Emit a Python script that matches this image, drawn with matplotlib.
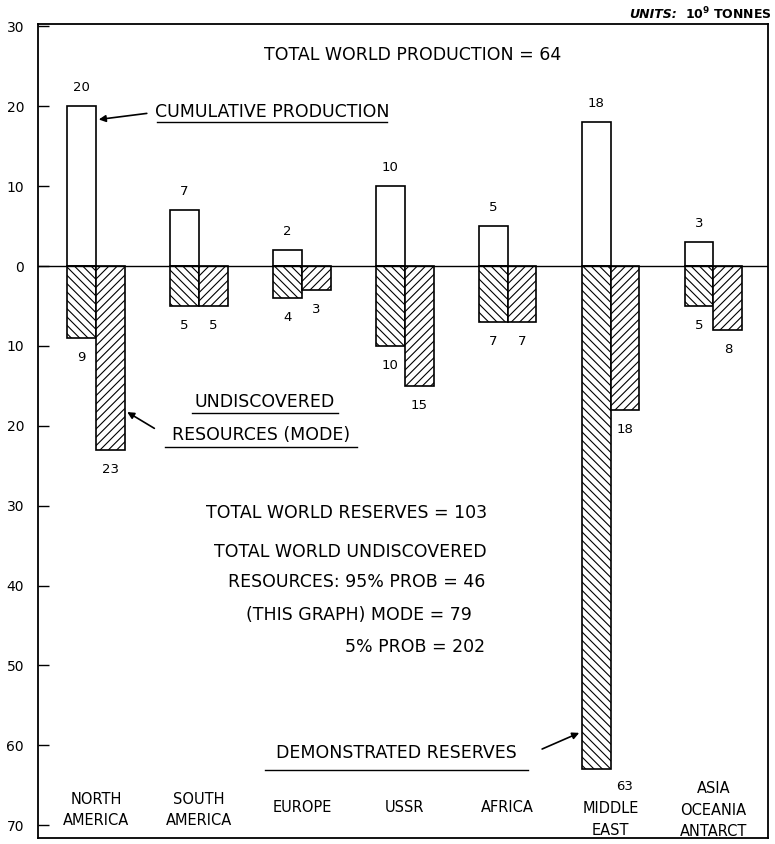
import numpy as np
import matplotlib.pyplot as plt

# oil figures by region, 10^9 tonnes
regions = ['NORTH\nAMERICA', 'SOUTH\nAMERICA', 'EUROPE', 'USSR', 'AFRICA',
           'MIDDLE\nEAST', 'ASIA\nOCEANIA\nANTARCT']
production = [20, 7, 2, 10, 5, 18, 3]        # cumulative production (up)
reserves = [9, 5, 4, 10, 7, 63, 5]            # demonstrated reserves (down)
undiscovered = [23, 5, 3, 15, 7, 18, 8]       # undiscovered resources, mode (down)

tick_vals = [30, 20, 10, 0, -10, -20, -30, -40, -50, -60, -70]

summary_lines = ['TOTAL WORLD RESERVES = 103',
                 'TOTAL WORLD UNDISCOVERED',
                 'RESOURCES: 95% PROB = 46',
                 '(THIS GRAPH) MODE = 79',
                 '5% PROB = 202']

plt.rcParams['font.family'] = 'DejaVu Sans'
plt.rcParams['hatch.linewidth'] = 0.8

fig = plt.figure(figsize=(7.75, 8.44), dpi=100)
ax = fig.add_axes([0.049, 0.0071, 0.942, 0.9645])

x = np.arange(len(regions))
w = 0.28

prod = np.array(production)
res = -np.array(reserves)
und = -np.array(undiscovered)

ax.bar(x - w / 2, prod, w, color='white', edgecolor='black', linewidth=1.2, zorder=3)
ax.bar(x - w / 2, res, w, color='white', edgecolor='black', linewidth=1.2,
       hatch='\\\\\\\\', zorder=3)
ax.bar(x + w / 2, und, w, color='white', edgecolor='black', linewidth=1.2,
       hatch='////', zorder=3)

ax.axhline(0, color='black', linewidth=1.0, zorder=4)

# value labels
for i in range(len(regions)):
    ax.text(x[i] - w / 2, prod[i] + 2.3, str(production[i]), ha='center', va='center', fontsize=9.5)
    if reserves[i] > 50:
        # too deep for a label underneath, put it beside the bar
        ax.text(x[i] + w / 2, res[i] - 2.2, str(reserves[i]), ha='center', va='center', fontsize=9.5)
    else:
        ax.text(x[i] - w / 2, res[i] - 2.5, str(reserves[i]), ha='center', va='center', fontsize=9.5)
    ax.text(x[i] + w / 2, und[i] - 2.5, str(undiscovered[i]), ha='center', va='center', fontsize=9.5)

# region names along the bottom
name_y = [-68.1, -68.1, -67.8, -67.8, -67.8, -69.3, -68.1]
for i, name in enumerate(regions):
    ax.text(x[i], name_y[i], name, ha='center', va='center', fontsize=10.5, linespacing=1.55)

# headline and notes
ax.text(3.08, 26.4, 'TOTAL WORLD PRODUCTION = 64', ha='center', va='center', fontsize=12.5)

def underlined(xc, y, s, x0, x1, uy):
    ax.text(xc, y, s, ha='center', va='center', fontsize=12.5)
    ax.plot([x0, x1], [uy, uy], color='black', linewidth=1.0)

underlined(1.71, 19.3, 'CUMULATIVE PRODUCTION', 0.593, 2.83, 18.0)
ax.annotate('', xy=(0.0, 18.3), xytext=(0.52, 19.15),
            arrowprops=dict(arrowstyle='-|>', color='black', lw=1.2, mutation_scale=10))

underlined(1.64, -17.0, 'UNDISCOVERED', 0.933, 2.35, -18.4)
underlined(1.60, -21.2, 'RESOURCES (MODE)', 0.67, 2.54, -22.65)
ax.annotate('', xy=(w, -18.1), xytext=(0.59, -20.5),
            arrowprops=dict(arrowstyle='-|>', color='black', lw=1.2, mutation_scale=10))

underlined(2.92, -61.0, 'DEMONSTRATED RESERVES', 1.64, 4.20, -63.1)
ax.annotate('', xy=(5 - w, -58.3), xytext=(4.31, -60.6),
            arrowprops=dict(arrowstyle='-|>', color='black', lw=1.2, mutation_scale=10))

summary_x = [3.80, 3.80, 3.78, 3.65, 3.78]
summary_y = [-30.9, -35.8, -39.5, -43.7, -47.7]
for sx, sy, s in zip(summary_x, summary_y, summary_lines):
    ax.text(sx, sy, s, ha='right', va='center', fontsize=12.5)

# units in the top right corner
fig.text(0.874, 0.983, 'UNITS:', ha='right', va='center', fontsize=9,
         fontweight='bold', fontstyle='italic')
fig.text(0.996, 0.983, r'10$^{\mathbf{9}}$ TONNES', ha='right', va='center', fontsize=9,
         fontweight='bold')

ax.set_xlim(-0.564, 6.53)
ax.set_ylim(-71.6, 30.3)
ax.set_xticks([])
ax.set_yticks(tick_vals)
ax.set_yticklabels([str(abs(v)) for v in tick_vals], fontsize=10)
ax.tick_params(axis='y', direction='in', length=8, width=1.0, pad=10)
for sp in ax.spines.values():
    sp.set_linewidth(1.3)

fig.savefig('out.png', dpi=100)
